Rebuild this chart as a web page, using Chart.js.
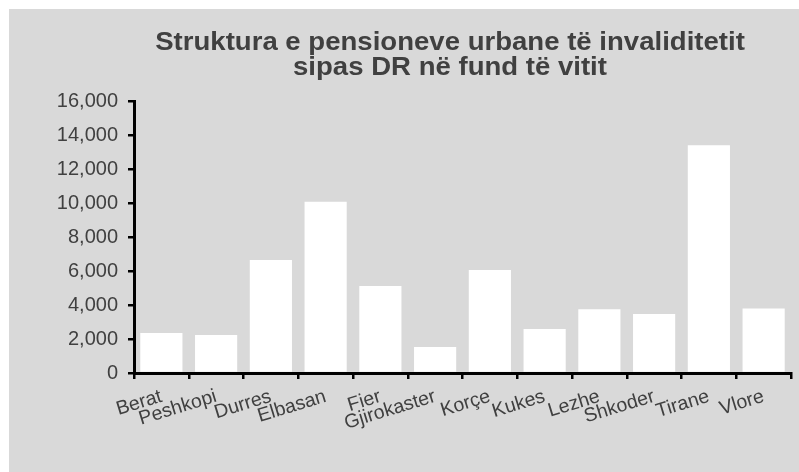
<!DOCTYPE html>
<html>
<head>
<meta charset="utf-8">
<script src="https://cdn.jsdelivr.net/npm/chart.js@4"></script>
<style>
  html, body { margin: 0; padding: 0; background: #ffffff; }
  #wrap { position: absolute; left: 9px; top: 9px; width: 790px; height: 463px; background: #d9d9d9; }
  canvas { display: block; }
</style>
</head>
<body>
<div id="wrap"><canvas id="c" width="790" height="463"></canvas></div>
<script>
const titleLines = ['Struktura e pensioneve urbane të invaliditetit', 'sipas DR në fund të vitit'];
const categories = ['Berat', 'Peshkopi', 'Durres', 'Elbasan', 'Fier', 'Gjirokaster', 'Korçe', 'Kukes', 'Lezhe', 'Shkoder', 'Tirane', 'Vlore'];
const values = [2350, 2240, 6650, 10070, 5120, 1530, 6060, 2590, 3750, 3470, 13400, 3800];
const yMin = 0;
const yMax = 16000;
const yStep = 2000;

const titlePlugin = {
  id: 'customTitle',
  afterDraw(chart) {
    const ctx = chart.ctx;
    ctx.save();
    ctx.font = 'bold 26px "Liberation Sans", Arial, sans-serif';
    ctx.fillStyle = '#404040';
    ctx.textAlign = 'center';
    ctx.textBaseline = 'alphabetic';
    const cx = 441;
    const baselines = [41, 66];
    titleLines.forEach((t, i) => {
      ctx.save();
      ctx.translate(cx, baselines[i]);
      ctx.scale(1.06, 1);
      ctx.fillText(t, 0, 0);
      ctx.restore();
    });
    ctx.restore();
  }
};

new Chart(document.getElementById('c'), {
  type: 'bar',
  data: {
    labels: categories,
    datasets: [{
      data: values,
      backgroundColor: '#ffffff',
      borderWidth: 0,
      barPercentage: 0.77,
      categoryPercentage: 1.0
    }]
  },
  options: {
    responsive: false,
    animation: false,
    devicePixelRatio: 1,
    layout: { padding: { left: 0, right: 8, top: 92, bottom: 0 } },
    plugins: { legend: { display: false }, title: { display: false }, tooltip: { enabled: false } },
    scales: {
      x: {
        grid: { display: true, drawOnChartArea: false, drawTicks: true, tickLength: 6, color: '#000000', lineWidth: 2.5, offset: true },
        border: { display: true, color: '#000000', width: 3 },
        ticks: {
          color: '#404040',
          font: { family: '"Liberation Sans", Arial, sans-serif', size: 19.5 },
          minRotation: 17, maxRotation: 17,
          autoSkip: false,
          padding: 6
        },
        afterFit(scale) { scale.height = 99; }
      },
      y: {
        min: yMin, max: yMax,
        grid: { display: true, drawOnChartArea: false, drawTicks: true, tickLength: 6, color: '#000000', lineWidth: 2.5 },
        border: { display: true, color: '#000000', width: 3 },
        ticks: {
          stepSize: yStep,
          color: '#404040',
          font: { family: '"Liberation Sans", Arial, sans-serif', size: 20 },
          padding: 10,
          callback: v => v.toLocaleString('en-US')
        },
        afterFit(scale) { scale.width = 125; }
      }
    }
  },
  plugins: [titlePlugin]
});
</script>
</body>
</html>
